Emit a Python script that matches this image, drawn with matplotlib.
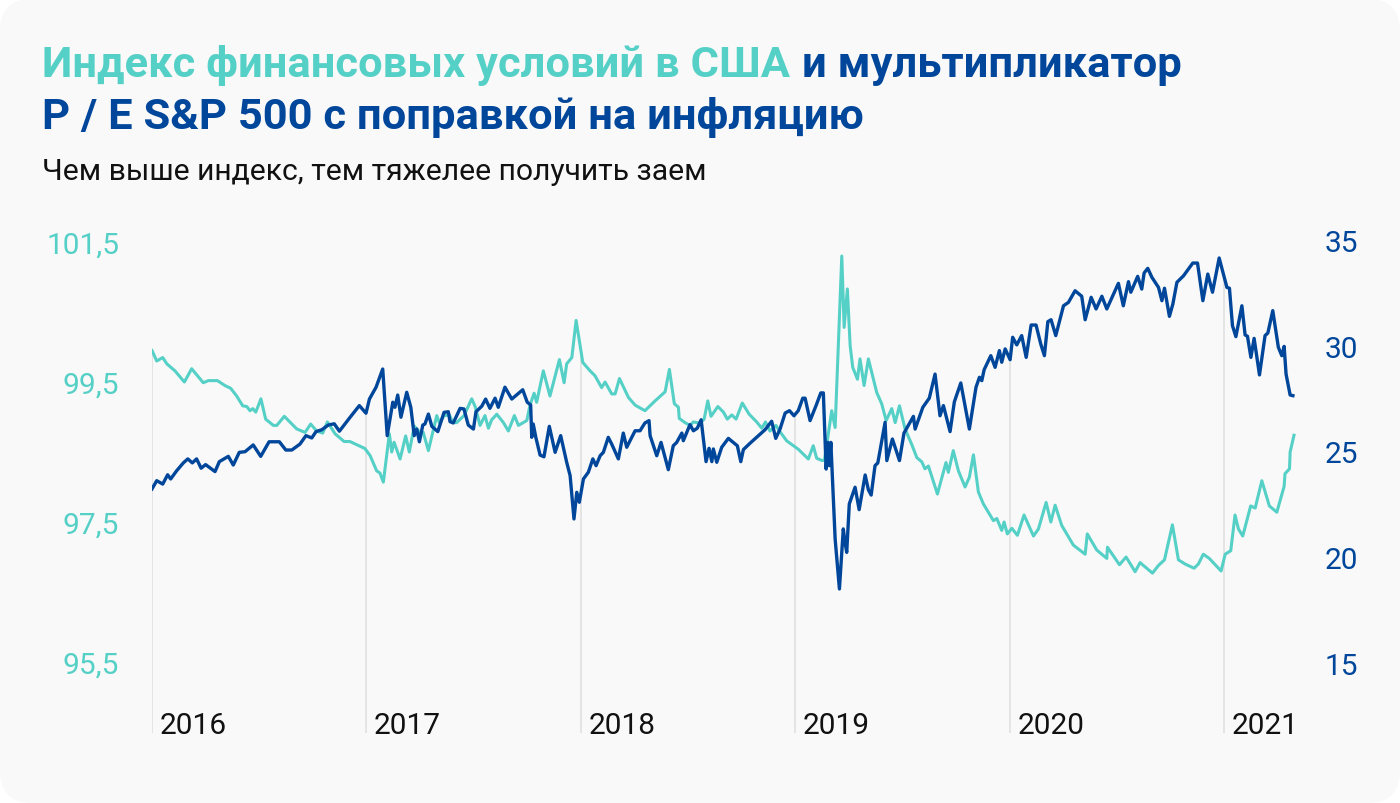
# Financial conditions index vs inflation-adjusted P/E of S&P 500, 2016-2021
import numpy as np
import matplotlib
matplotlib.use('Agg')
import matplotlib.pyplot as plt
from matplotlib.patches import FancyBboxPatch
from matplotlib.transforms import IdentityTransform

TEAL = '#55d0c6'
BLUE = '#00469a'

# x values are years since the start of 2016
years = [0, 1, 2, 3, 4, 5]
year_labels = ['2016', '2017', '2018', '2019', '2020', '2021']

# financial conditions index (left axis)
fci_t = [0.000, 0.022, 0.050, 0.069, 0.107, 0.151, 0.185, 0.239, 0.263, 0.305,
         0.340, 0.367, 0.395, 0.423, 0.442, 0.457, 0.470, 0.484, 0.508, 0.530,
         0.566, 0.582, 0.617, 0.675, 0.714, 0.740, 0.768, 0.796, 0.818, 0.854,
         0.896, 0.923, 0.993, 1.017, 1.048, 1.063, 1.079, 1.107, 1.118, 1.129,
         1.157, 1.183, 1.200, 1.223, 1.250, 1.265, 1.289, 1.328, 1.340, 1.362,
         1.387, 1.403, 1.421, 1.455, 1.491, 1.507, 1.530, 1.553, 1.569, 1.584,
         1.608, 1.639, 1.662, 1.690, 1.709, 1.748, 1.763, 1.782, 1.794, 1.825,
         1.856, 1.900, 1.922, 1.934, 1.958, 1.978, 2.009, 2.043, 2.066, 2.097,
         2.113, 2.144, 2.160, 2.180, 2.222, 2.253, 2.299, 2.346, 2.393, 2.413,
         2.436, 2.455, 2.459, 2.486, 2.509, 2.525, 2.556, 2.575, 2.592, 2.607,
         2.639, 2.665, 2.683, 2.704, 2.724, 2.753, 2.785, 2.820, 2.844, 2.861,
         2.882, 2.910, 2.929, 2.960, 2.991, 3.014, 3.061, 3.084, 3.100, 3.124,
         3.136, 3.170, 3.186, 3.217, 3.228, 3.243, 3.256, 3.268, 3.290, 3.302,
         3.321, 3.341, 3.380, 3.403, 3.424, 3.450, 3.466, 3.486, 3.512, 3.543,
         3.567, 3.590, 3.605, 3.621, 3.663, 3.703, 3.714, 3.737, 3.761, 3.792,
         3.812, 3.831, 3.854, 3.877, 3.924, 3.940, 3.963, 3.974, 3.989, 4.010,
         4.036, 4.067, 4.111, 4.134, 4.170, 4.192, 4.212, 4.243, 4.297, 4.352,
         4.362, 4.406, 4.453, 4.456, 4.512, 4.543, 4.585, 4.608, 4.666, 4.694,
         4.722, 4.759, 4.787, 4.818, 4.860, 4.880, 4.903, 4.931, 4.986, 5.005,
         5.031, 5.051, 5.067, 5.087, 5.124, 5.145, 5.176, 5.211, 5.246, 5.280,
         5.284, 5.305, 5.308, 5.326]
fci_v = [99.95, 99.80, 99.85, 99.76, 99.66, 99.50, 99.69, 99.49, 99.52, 99.52,
         99.45, 99.41, 99.30, 99.16, 99.15, 99.09, 99.12, 99.07, 99.26, 98.97,
         98.88, 98.88, 99.01, 98.83, 98.78, 98.90, 98.80, 98.77, 98.93, 98.76,
         98.65, 98.65, 98.55, 98.45, 98.23, 98.20, 98.07, 98.76, 98.50, 98.64,
         98.40, 98.73, 98.50, 98.87, 98.78, 98.78, 98.52, 99.02, 98.92, 99.02,
         99.03, 98.92, 98.92, 99.02, 99.26, 99.15, 98.88, 99.02, 98.84, 98.96,
         99.04, 98.92, 98.80, 99.02, 98.88, 98.95, 99.17, 99.34, 99.21, 99.66,
         99.30, 99.82, 99.49, 99.76, 99.85, 100.38, 99.78, 99.66, 99.59, 99.42,
         99.50, 99.33, 99.33, 99.55, 99.28, 99.17, 99.09, 99.23, 99.36, 99.68,
         99.19, 99.14, 98.98, 98.92, 98.88, 98.93, 98.91, 98.97, 99.23, 99.01,
         99.15, 99.07, 98.97, 99.03, 98.97, 99.20, 99.04, 98.93, 98.84, 98.93,
         98.80, 98.88, 98.79, 98.66, 98.59, 98.54, 98.40, 98.59, 98.41, 98.38,
         98.38, 99.09, 98.85, 101.30, 100.28, 100.83, 100.02, 99.71, 99.54, 99.83,
         99.45, 99.83, 99.35, 99.19, 98.95, 99.12, 98.92, 99.16, 98.83, 98.61,
         98.42, 98.36, 98.26, 98.30, 97.90, 98.35, 98.21, 98.52, 98.23, 98.00,
         98.14, 98.46, 97.93, 97.76, 97.52, 97.55, 97.38, 97.50, 97.33, 97.41,
         97.31, 97.60, 97.30, 97.40, 97.78, 97.50, 97.74, 97.45, 97.17, 97.04,
         97.33, 97.10, 96.98, 97.14, 96.89, 97.00, 96.79, 96.92, 96.77, 96.88,
         96.96, 97.46, 96.96, 96.90, 96.84, 96.90, 97.04, 96.98, 96.80, 97.04,
         97.09, 97.60, 97.40, 97.30, 97.73, 97.70, 98.09, 97.73, 97.64, 98.01,
         98.19, 98.26, 98.50, 98.74]

# inflation adjusted P/E S&P 500 (right axis)
pe_t = [0.000, 0.022, 0.050, 0.073, 0.087, 0.115, 0.146, 0.167, 0.188, 0.208,
        0.229, 0.250, 0.294, 0.314, 0.356, 0.379, 0.407, 0.434, 0.472, 0.507,
        0.546, 0.594, 0.624, 0.652, 0.690, 0.718, 0.745, 0.765, 0.792, 0.822,
        0.850, 0.874, 0.924, 0.967, 0.998, 1.014, 1.045, 1.076, 1.097, 1.123,
        1.133, 1.146, 1.161, 1.188, 1.207, 1.223, 1.235, 1.247, 1.263, 1.273,
        1.289, 1.305, 1.333, 1.362, 1.382, 1.390, 1.405, 1.437, 1.455, 1.475,
        1.499, 1.511, 1.538, 1.556, 1.576, 1.600, 1.615, 1.646, 1.678, 1.729,
        1.750, 1.766, 1.771, 1.778, 1.790, 1.810, 1.828, 1.853, 1.880, 1.906,
        1.934, 1.950, 1.968, 1.981, 1.993, 2.012, 2.035, 2.056, 2.071, 2.090,
        2.105, 2.128, 2.144, 2.175, 2.198, 2.214, 2.253, 2.276, 2.299, 2.318,
        2.323, 2.354, 2.374, 2.408, 2.431, 2.447, 2.471, 2.478, 2.509, 2.525,
        2.543, 2.561, 2.584, 2.598, 2.611, 2.618, 2.634, 2.657, 2.688, 2.711,
        2.730, 2.746, 2.758, 2.789, 2.828, 2.859, 2.890, 2.909, 2.929, 2.953,
        2.973, 2.994, 3.014, 3.035, 3.046, 3.069, 3.097, 3.119, 3.131, 3.144,
        3.152, 3.159, 3.166, 3.186, 3.206, 3.224, 3.232, 3.240, 3.252, 3.279,
        3.298, 3.326, 3.341, 3.354, 3.372, 3.385, 3.419, 3.427, 3.453, 3.486,
        3.507, 3.551, 3.559, 3.595, 3.625, 3.652, 3.675, 3.691, 3.722, 3.742,
        3.772, 3.812, 3.843, 3.859, 3.870, 3.881, 3.912, 3.932, 3.952, 3.963,
        3.979, 4.002, 4.014, 4.033, 4.056, 4.077, 4.100, 4.123, 4.145, 4.162,
        4.178, 4.193, 4.215, 4.251, 4.274, 4.305, 4.336, 4.352, 4.380, 4.403,
        4.430, 4.453, 4.507, 4.530, 4.554, 4.565, 4.597, 4.616, 4.627, 4.644,
        4.663, 4.694, 4.710, 4.722, 4.745, 4.761, 4.780, 4.811, 4.854, 4.876,
        4.901, 4.924, 4.946, 4.977, 5.013, 5.025, 5.039, 5.055, 5.083, 5.098,
        5.109, 5.125, 5.140, 5.165, 5.191, 5.204, 5.227, 5.253, 5.269, 5.280,
        5.289, 5.308, 5.321]
pe_v = [23.23, 23.62, 23.46, 23.90, 23.70, 24.09, 24.46, 24.65, 24.46, 24.65,
        24.21, 24.38, 24.05, 24.52, 24.77, 24.36, 24.96, 24.99, 25.31, 24.77,
        25.46, 25.46, 25.07, 25.07, 25.35, 25.75, 25.64, 25.94, 26.03, 26.25,
        26.31, 25.96, 26.62, 27.17, 26.81, 27.48, 28.04, 28.90, 25.75, 27.33,
        27.09, 27.67, 26.62, 27.80, 27.09, 25.75, 26.06, 25.46, 26.25, 26.30,
        26.77, 26.19, 25.94, 26.85, 26.88, 26.41, 26.35, 27.04, 27.01, 26.25,
        26.06, 26.88, 27.14, 27.48, 27.04, 27.52, 27.09, 28.04, 27.48, 27.92,
        27.33, 27.20, 25.67, 26.30, 25.67, 24.83, 24.75, 26.19, 24.96, 25.75,
        24.49, 23.86, 21.81, 23.07, 22.60, 23.70, 24.02, 24.65, 24.33, 24.80,
        24.96, 25.67, 25.35, 24.65, 25.87, 25.20, 25.98, 25.98, 26.35, 26.46,
        25.75, 24.80, 25.43, 24.14, 25.27, 25.43, 25.87, 25.51, 26.27, 25.98,
        26.10, 26.50, 24.52, 25.15, 24.52, 25.12, 24.49, 25.20, 25.62, 25.43,
        25.27, 24.52, 25.09, 25.39, 25.75, 26.03, 26.43, 25.62, 26.06, 26.82,
        26.93, 26.69, 26.93, 27.52, 27.52, 26.46, 27.17, 27.77, 27.77, 24.17,
        25.43, 24.33, 25.43, 20.86, 18.50, 21.34, 20.71, 20.23, 22.52, 23.31,
        22.25, 23.89, 23.19, 22.94, 24.33, 24.46, 26.38, 24.57, 25.59, 24.57,
        25.87, 26.66, 26.06, 27.09, 27.52, 28.66, 26.69, 27.17, 25.94, 27.35,
        28.24, 26.06, 28.04, 28.51, 28.35, 28.87, 29.53, 28.98, 29.77, 29.22,
        29.85, 29.34, 30.40, 30.04, 30.48, 29.45, 30.98, 30.98, 30.08, 29.53,
        31.14, 31.23, 30.48, 31.89, 32.05, 32.60, 32.34, 31.23, 32.29, 31.74,
        32.34, 31.74, 32.95, 31.89, 33.03, 32.53, 33.28, 32.68, 33.44, 33.66,
        33.24, 32.76, 32.13, 32.72, 31.39, 31.97, 33.00, 33.31, 33.91, 33.91,
        32.13, 33.39, 32.53, 34.15, 32.76, 32.72, 30.95, 30.43, 31.89, 30.51,
        30.45, 29.45, 30.35, 28.62, 30.48, 30.60, 31.66, 29.93, 29.53, 29.97,
        28.66, 27.67, 27.64]

left_ticks = [95.5, 97.5, 99.5, 101.5]
left_labels = ['95,5', '97,5', '99,5', '101,5']
right_ticks = [15, 20, 25, 30, 35]
right_labels = ['15', '20', '25', '30', '35']

title_part1 = 'Индекс финансовых условий в США'
title_part2 = 'и мультипликатор'
title_line2 = 'P / E S&P 500 с поправкой на инфляцию'
subtitle = 'Чем выше индекс, тем тяжелее получить заем'

plt.rcParams['font.family'] = ['Roboto', 'DejaVu Sans']

W, H = 1400, 804
fig = plt.figure(figsize=(W / 100, H / 100), dpi=100)
fig.patch.set_facecolor('white')
card = FancyBboxPatch((0, 0), W, H, boxstyle='round,pad=0,rounding_size=32',
                      transform=IdentityTransform(), facecolor='#f9f9f9',
                      edgecolor='none', zorder=-10)
fig.add_artist(card)

ax = fig.add_axes([152 / W, 1 - 734 / H, 1148 / W, 504 / H])
ax.set_facecolor('none')
ylo_l, yhi_l = 94.486, 101.686
ylo_r, yhi_r = 11.69, 35.52
ax.set_xlim(0, 5.354)
ax.set_ylim(ylo_l, yhi_l)

ax2 = ax.twinx()
ax2.set_ylim(ylo_r, yhi_r)

for a in (ax, ax2):
    for s in a.spines.values():
        s.set_visible(False)
    a.set_xticks([])

ax.plot(fci_t, fci_v, color=TEAL, lw=2.2, zorder=3)
ax2.plot(pe_t, pe_v, color=BLUE, lw=2.4, zorder=3)

# year gridlines run from the bottom up to the higher of the two lines
for k, lab in zip(years, year_labels):
    f1 = (np.interp(k, fci_t, fci_v) - ylo_l) / (yhi_l - ylo_l)
    f2 = (np.interp(k, pe_t, pe_v) - ylo_r) / (yhi_r - ylo_r)
    ax.axvline(k, ymin=0, ymax=max(f1, f2), color='#e0e0e0', lw=1.2, zorder=0)
    ax.annotate(lab, xy=(k, 0), xycoords=ax.get_xaxis_transform(),
                xytext=(5.5, 0), textcoords='offset points',
                ha='left', va='baseline', fontsize=21.5, color='#111111')

ax.set_yticks(left_ticks)
ax.set_yticklabels(left_labels)
ax.tick_params(axis='y', length=0, pad=23.5, labelsize=21.5, labelcolor=TEAL)
ax2.set_yticks(right_ticks)
ax2.set_yticklabels(right_labels)
ax2.tick_params(axis='y', length=0, pad=18, labelsize=21.5, labelcolor=BLUE)

# title: first part teal, rest dark blue
TITLE_SIZE = 31.3
t1 = fig.text(42 / W, 1 - 77 / H, title_part1, color=TEAL, fontsize=TITLE_SIZE,
              fontweight='bold', ha='left', va='baseline')
renderer = fig.canvas.get_renderer()
bb = t1.get_window_extent(renderer)
fig.text((bb.x1 + 12) / W, 1 - 77 / H, title_part2, color=BLUE,
         fontsize=TITLE_SIZE, fontweight='bold', ha='left', va='baseline')
fig.text(42 / W, 1 - 128.5 / H, title_line2, color=BLUE, fontsize=TITLE_SIZE,
         fontweight='bold', ha='left', va='baseline')
fig.text(42 / W, 1 - 180 / H, subtitle, color='#111111', fontsize=21.7,
         ha='left', va='baseline')

fig.savefig('out.png', dpi=100, facecolor=fig.get_facecolor())
